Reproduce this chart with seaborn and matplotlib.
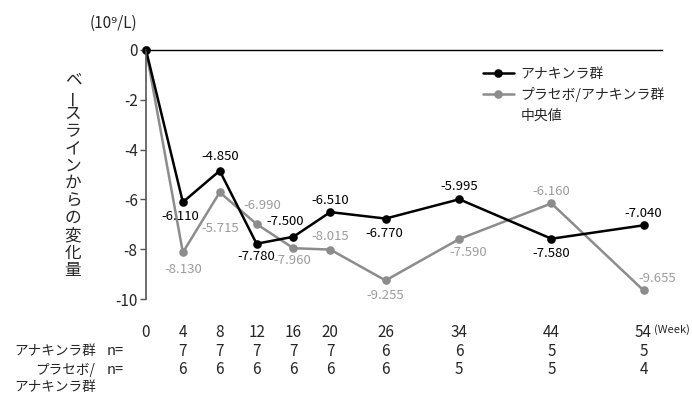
import matplotlib
matplotlib.use("Agg")
import matplotlib.pyplot as plt
import matplotlib.transforms as mtransforms
import seaborn as sns
import pandas as pd
from matplotlib.lines import Line2D

sns.set_theme(style="white")
plt.rcParams["font.family"] = ["Noto Sans CJK JP", "DejaVu Sans"]

weeks = [0, 4, 8, 12, 16, 20, 26, 34, 44, 54]
anakinra = [0, -6.110, -4.850, -7.780, -7.500, -6.510, -6.770, -5.995, -7.580, -7.040]
placebo = [0, -8.130, -5.715, -6.990, -7.960, -8.015, -9.255, -7.590, -6.160, -9.655]
n_anakinra = ["", "7", "7", "7", "7", "7", "6", "6", "5", "5"]
n_placebo = ["", "6", "6", "6", "6", "6", "6", "5", "5", "4"]
group_names = ["アナキンラ群", "プラセボ/アナキンラ群"]
y_ticks = [0, -2, -4, -6, -8, -10]

# label offsets (points) for each value label: (dx, dy)
offs_a = [None, (-2, -10), (0.7, 10), (0, -9.4), (-5.8, 10.8), (0, 8.6),
          (-0.7, -10.8), (0, 9.4), (0, -10.8), (0, 8.6)]
offs_p = [None, (0, -12.2), (0.7, -26), (4.3, 13), (-1, -8.8), (0, 9.4),
          (0, -10.8), (6.5, -10), (0, 8.6), (10, 8.6)]

df = pd.DataFrame({
    "week": weeks * 2,
    "value": anakinra + placebo,
    "group": [group_names[0]] * len(weeks) + [group_names[1]] * len(weeks),
})

BLACK = "#000000"
GREY = "#8c8c8c"
GREY_TXT = "#9c9c9c"
palette = {group_names[0]: BLACK, group_names[1]: GREY}

fig = plt.figure(figsize=(6.92, 3.94), dpi=100)
ax = fig.add_axes([146 / 692, 1 - 299 / 394, (662 - 146) / 692, 249 / 394])

sns.lineplot(data=df, x="week", y="value", hue="group", palette=palette,
             hue_order=group_names[::-1], marker="o", markersize=6.2,
             markeredgewidth=0, linewidth=1.8, ax=ax, legend=False, clip_on=False)

ax.set_xlim(0, 56)
ax.set_ylim(-10, 0)
for s in ["right", "bottom"]:
    ax.spines[s].set_visible(False)
ax.spines["top"].set_color("black")
ax.spines["top"].set_linewidth(1.0)
ax.spines["left"].set_color("#555555")
ax.spines["left"].set_linewidth(1.2)
ax.set_yticks(y_ticks)
ax.set_yticklabels([str(v) for v in y_ticks])
ax.tick_params(axis="y", left=True, length=4, width=1, color="#555555", labelsize=11, pad=2)
ax.set_xticks(weeks)
ax.set_xticklabels([str(w) for w in weeks])
ax.tick_params(axis="x", bottom=False, length=0, labelsize=11, pad=18)
ax.set_xlabel("")
ax.set_ylabel("")
ax.grid(False)

# value labels
for i, w in enumerate(weeks):
    if offs_a[i]:
        ax.annotate(f"{anakinra[i]:.3f}", (w, anakinra[i]), xytext=offs_a[i],
                    textcoords="offset points", ha="center", va="center",
                    fontsize=9.5, color=BLACK)
    if offs_p[i]:
        ax.annotate(f"{placebo[i]:.3f}", (w, placebo[i]), xytext=offs_p[i],
                    textcoords="offset points", ha="center", va="center",
                    fontsize=9.5, color=GREY_TXT)

# legend
handles = [Line2D([], [], color=BLACK, marker="o", markersize=6.2, lw=1.8, markeredgewidth=0),
           Line2D([], [], color=GREY, marker="o", markersize=6.2, lw=1.8, markeredgewidth=0),
           Line2D([], [], color="none")]
ax.legend(handles, group_names + ["中央値"], loc="upper left",
          bbox_to_anchor=((483 - 146) / 516, 1 - (67 - 50) / 249),
          frameon=False, fontsize=10, handlelength=2.2, handletextpad=0.5,
          labelspacing=0.45, borderpad=0, borderaxespad=0)

# unit
fig.text(113 / 692, 1 - 23 / 394, "(10⁹/L)", ha="center", va="center", fontsize=11)

# vertical y-axis title
ylab = "ベースラインからの変化量"
for k, ch in enumerate(ylab):
    y = 80 + k * 17.3
    fig.text(73 / 692, 1 - y / 394, ch, ha="center", va="center", fontsize=12,
             rotation=90 if ch == "ー" else 0)

# Week unit
fig.text(654 / 692, 1 - 330 / 394, "(Week)", ha="left", va="center", fontsize=8)

# n table
fs_n = 9.8
fig.text(14 / 692, 1 - 351 / 394, "アナキンラ群", ha="left", va="center", fontsize=fs_n)
fig.text(95 / 692, 1 - 370 / 394, "プラセボ/", ha="right", va="center", fontsize=fs_n)
fig.text(14 / 692, 1 - 387 / 394, "アナキンラ群", ha="left", va="center", fontsize=fs_n)
fig.text(107 / 692, 1 - 351 / 394, "n=", ha="left", va="center", fontsize=10.5)
fig.text(107 / 692, 1 - 370 / 394, "n=", ha="left", va="center", fontsize=10.5)
trans = mtransforms.blended_transform_factory(ax.transData, fig.transFigure)
for w, na, npl in zip(weeks, n_anakinra, n_placebo):
    fig.text(w, 1 - 351 / 394, na, transform=trans, ha="center", va="center", fontsize=11)
    fig.text(w, 1 - 370 / 394, npl, transform=trans, ha="center", va="center", fontsize=11)

fig.savefig("out.png", dpi=100)
